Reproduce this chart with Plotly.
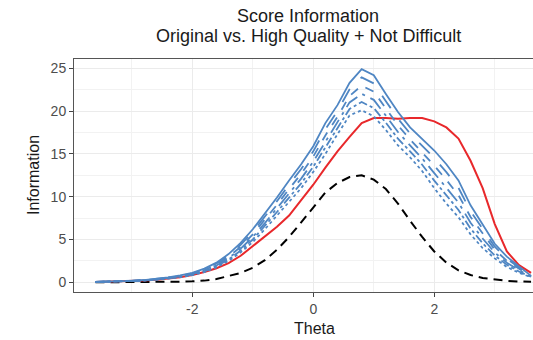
import plotly.graph_objects as go

# Theta grid on which the information functions were evaluated
theta = [-3.6, -3.4, -3.2, -3.0, -2.8, -2.6, -2.4, -2.2, -2.0, -1.8, -1.6, -1.4,
         -1.2, -1.0, -0.8, -0.6, -0.4, -0.2, 0.0, 0.2, 0.4, 0.6, 0.8, 1.0,
         1.2, 1.4, 1.6, 1.8, 2.0, 2.2, 2.4, 2.6, 2.8, 3.0, 3.2, 3.4, 3.6]

# Original score information
original = [0.04, 0.06, 0.09, 0.13, 0.2, 0.29, 0.42, 0.6, 0.85, 1.2, 1.65, 2.25,
             3.1, 4.2, 5.3, 6.5, 7.8, 9.6, 11.4, 13.4, 15.3, 17.0, 18.6, 19.2,
             19.2, 19.1, 19.2, 19.2, 18.8, 18.1, 16.8, 14.2, 11.0, 6.8, 3.6, 2.0, 1.1]

# High Quality + Not Difficult forms
form_a = [0.05, 0.08, 0.12, 0.18, 0.27, 0.4, 0.57, 0.8, 1.1, 1.6, 2.3, 3.3,
          4.6, 6.2, 8.0, 9.9, 11.9, 13.8, 15.9, 18.6, 20.7, 23.3, 24.9, 24.2,
          22.0, 19.9, 18.1, 16.7, 15.4, 13.8, 11.9, 9.0, 6.8, 4.5, 3.0, 1.9, 0.75]
form_b = [0.05, 0.08, 0.11, 0.17, 0.26, 0.38, 0.54, 0.76, 1.05, 1.52, 2.19, 3.14,
          4.38, 5.9, 7.64, 9.48, 11.4, 13.24, 15.3, 17.88, 20.02, 22.54, 23.94, 23.24,
          21.16, 19.12, 17.4, 15.96, 14.52, 12.88, 11.04, 8.32, 6.24, 4.16, 2.76, 1.74, 0.72]
form_c = [0.05, 0.07, 0.11, 0.16, 0.24, 0.36, 0.51, 0.72, 1.0, 1.44, 2.08, 2.98,
          4.16, 5.6, 7.28, 9.06, 10.9, 12.68, 14.7, 17.16, 19.34, 21.78, 22.98, 22.28,
          20.32, 18.34, 16.7, 15.22, 13.64, 11.96, 10.18, 7.64, 5.68, 3.82, 2.52, 1.58, 0.69]
form_d = [0.04, 0.07, 0.1, 0.16, 0.23, 0.34, 0.49, 0.68, 0.95, 1.36, 1.97, 2.82,
          3.94, 5.3, 6.92, 8.64, 10.4, 12.12, 14.1, 16.44, 18.66, 21.02, 22.02, 21.32,
          19.48, 17.56, 16.0, 14.48, 12.76, 11.04, 9.32, 6.96, 5.12, 3.48, 2.28, 1.42, 0.66]
form_e = [0.04, 0.06, 0.1, 0.15, 0.21, 0.32, 0.46, 0.64, 0.9, 1.28, 1.86, 2.66,
          3.72, 5.0, 6.56, 8.22, 9.9, 11.56, 13.5, 15.72, 17.98, 20.26, 21.06, 20.36,
          18.64, 16.78, 15.3, 13.74, 11.88, 10.12, 8.46, 6.28, 4.56, 3.14, 2.04, 1.26, 0.63]
form_f = [0.04, 0.06, 0.09, 0.14, 0.2, 0.3, 0.43, 0.6, 0.85, 1.2, 1.75, 2.5,
          3.5, 4.7, 6.2, 7.8, 9.4, 11.0, 12.9, 15.0, 17.3, 19.5, 20.1, 19.4,
          17.8, 16.0, 14.6, 13.0, 11.0, 9.2, 7.6, 5.6, 4.0, 2.8, 1.8, 1.1, 0.6]

# Single-form information (dashed black reference curve)
single = [0.0, 0.0, 0.01, 0.01, 0.02, 0.03, 0.05, 0.08, 0.12, 0.2, 0.38, 0.7,
          1.1, 1.7, 2.6, 3.8, 5.3, 7.0, 8.8, 10.5, 11.6, 12.3, 12.5, 12.0,
          10.9, 9.2, 7.2, 5.3, 3.6, 2.3, 1.4, 0.85, 0.5, 0.3, 0.18, 0.1, 0.06]

x_ticks = [-2, 0, 2]
y_ticks = [0, 5, 10, 15, 20, 25]

BLUE = "#4F86C3"
RED = "#E8282B"

forms = [
    (form_f, "dot"),
    (form_e, "dashdot"),
    (form_d, "longdashdot"),
    (form_c, "dash"),
    (form_b, "longdash"),
    (form_a, "solid"),
]

fig = go.Figure()
fig.add_trace(go.Scatter(x=theta, y=single, mode="lines",
                         line=dict(color="black", width=2, dash="9px,6px")))
fig.add_trace(go.Scatter(x=theta, y=original, mode="lines",
                         line=dict(color=RED, width=2)))
for vals, dash in forms:
    fig.add_trace(go.Scatter(x=theta, y=vals, mode="lines",
                             line=dict(color=BLUE, width=1.8, dash=dash)))

FONT = "Liberation Sans, Arial, sans-serif"
fig.update_layout(
    width=533, height=340,
    margin=dict(l=74, r=0, t=59, b=48),
    paper_bgcolor="white", plot_bgcolor="white",
    showlegend=False,
    font=dict(family=FONT, color="#1a1a1a"),
    xaxis=dict(
        range=[-3.955, 3.632],
        tickvals=x_ticks, ticktext=[str(v) for v in x_ticks],
        showgrid=True, gridcolor="#EBEBEB", gridwidth=1.2,
        minor=dict(dtick=1, tick0=0, showgrid=True, gridcolor="#F2F2F2", gridwidth=0.6),
        zeroline=False,
        showline=True, mirror=True, linecolor="#555555", linewidth=1,
        ticks="outside", ticklen=4, tickcolor="#444444", tickwidth=1,
        tickfont=dict(size=14, color="#4D4D4D"),
    ),
    yaxis=dict(
        range=[-1.13, 26.09],
        tickvals=y_ticks, ticktext=[str(v) for v in y_ticks],
        showgrid=True, gridcolor="#EBEBEB", gridwidth=1.2,
        minor=dict(dtick=2.5, tick0=0, showgrid=True, gridcolor="#F2F2F2", gridwidth=0.6),
        zeroline=False,
        showline=True, mirror=False, linecolor="#555555", linewidth=1,
        ticks="outside", ticklen=4, tickcolor="#444444", tickwidth=1,
        tickfont=dict(size=14, color="#4D4D4D"),
    ),
    annotations=[
        dict(text="Score Information", xref="paper", yref="paper",
             x=(308 - 74) / 459, y=(292 - 16.5) / 233, xanchor="center", yanchor="middle",
             showarrow=False, font=dict(size=18, color="#1a1a1a")),
        dict(text="Original vs. High Quality + Not Difficult", xref="paper", yref="paper",
             x=(308 - 74) / 459, y=(292 - 36.5) / 233, xanchor="center", yanchor="middle",
             showarrow=False, font=dict(size=18, color="#1a1a1a")),
        dict(text="Theta", xref="paper", yref="paper",
             x=(314 - 74) / 459, y=(292 - 328) / 233, xanchor="center", yanchor="middle",
             showarrow=False, font=dict(size=16, color="#1a1a1a")),
        dict(text="Information", xref="paper", yref="paper",
             x=(33 - 74) / 459, y=(292 - 175) / 233, xanchor="center", yanchor="middle",
             textangle=-90, showarrow=False, font=dict(size=16, color="#1a1a1a")),
    ],
)

fig.write_html("out.html")
